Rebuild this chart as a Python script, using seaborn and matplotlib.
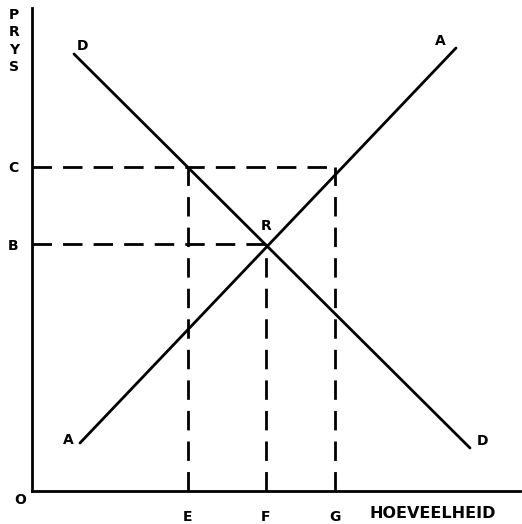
import matplotlib
matplotlib.use("Agg")
import matplotlib.pyplot as plt
import seaborn as sns
import pandas as pd

# Data (quantity, price) in chart units
demand_q = [42, 438]
demand_p = [437, 43]
supply_q = [48, 424]
supply_p = [48, 443]
x_marks = {"E": 156, "F": 234, "G": 303}
y_marks = {"B": 247, "C": 324}

sns.set_theme(style="white")
plt.rcParams['font.family'] = ['DejaVu Sans']
plt.rcParams['text.color'] = 'black'
plt.rcParams['xtick.color'] = 'black'
plt.rcParams['ytick.color'] = 'black'

fig = plt.figure(figsize=(5.22, 5.24), dpi=100)
ax = fig.add_axes([32/522, 33/524, 488/522, 483/524])

df = pd.DataFrame({
    "q": demand_q + supply_q,
    "p": demand_p + supply_p,
    "curve": ["D", "D", "A", "A"],
})
sns.lineplot(data=df, x="q", y="p", hue="curve", palette={"D": "black", "A": "black"},
             estimator=None, sort=False, lw=2, legend=False, ax=ax)

E, F, G = x_marks["E"], x_marks["F"], x_marks["G"]
B, C = y_marks["B"], y_marks["C"]
dash = dict(color="black", lw=2, linestyle=(0, (7, 4)))
ax.plot([0, G], [C, C], **dash)
ax.plot([0, F], [B, B], **dash)
ax.plot([E, E], [0, C], **dash)
ax.plot([F, F], [0, B], **dash)
ax.plot([G, G], [0, C], **dash)

ax.set_xlim(0, 488)
ax.set_ylim(0, 483)
for s in ["top", "right"]:
    ax.spines[s].set_visible(False)
for s in ["left", "bottom"]:
    ax.spines[s].set_color("black")
    ax.spines[s].set_linewidth(2)

ax.set_xticks([E, F, G], ["E", "F", "G"])
ax.set_yticks([B, C], ["B", "C"])
ax.tick_params(axis="both", length=0, labelsize=10, labelcolor="black")
ax.tick_params(axis="x", pad=14)
ax.tick_params(axis="y", pad=10)
for lab in ax.get_xticklabels() + ax.get_yticklabels():
    lab.set_fontweight("bold")
ax.set_xlabel("")
ax.set_ylabel("")

tk = dict(fontsize=10, fontweight="bold", ha="center", va="center", clip_on=False,
          color="black")
ax.text(-18, 450, "P\nR\nY\nS", linespacing=1.3, **tk)
ax.text(-12, -9, "O", **tk)
ax.text(401, -23, "HOEVEELHEID", fontsize=11.5, fontweight="bold", ha="center",
        va="center", clip_on=False, color="black")
ax.text(51, 445, "D", **tk)
ax.text(408, 450, "A", **tk)
ax.text(36, 51, "A", **tk)
ax.text(451, 50, "D", **tk)
ax.text(234, 265, "R", **tk)

fig.savefig("out.png", dpi=100)
